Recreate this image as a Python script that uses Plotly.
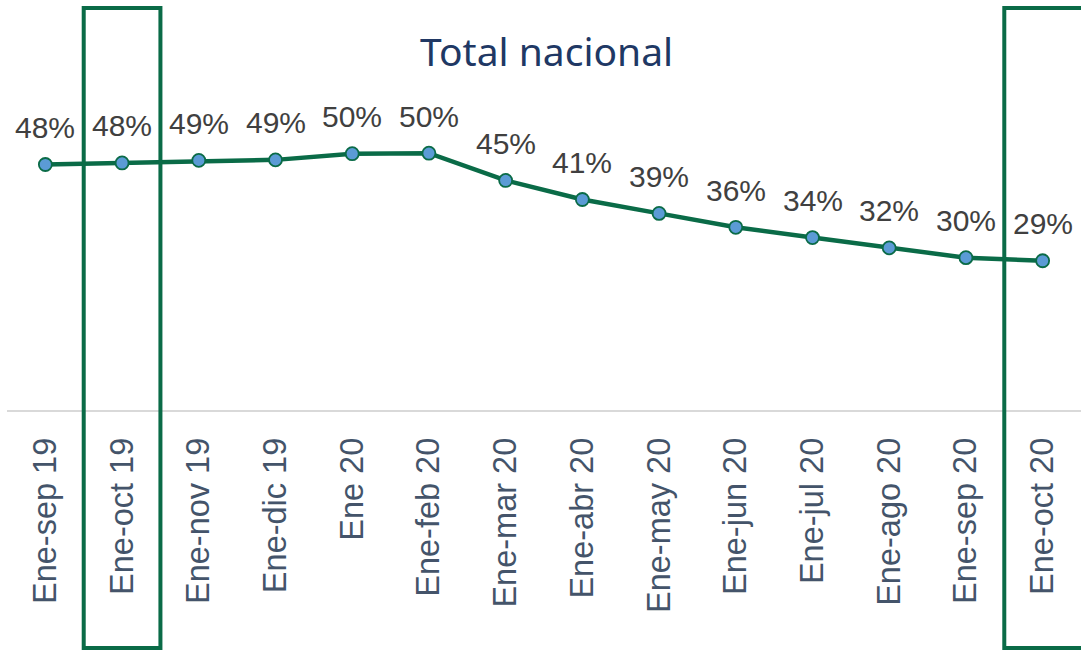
import plotly.graph_objects as go

categories = ["Ene-sep 19", "Ene-oct 19", "Ene-nov 19", "Ene-dic 19", "Ene 20", "Ene-feb 20",
              "Ene-mar 20", "Ene-abr 20", "Ene-may 20", "Ene-jun 20", "Ene-jul 20", "Ene-ago 20",
              "Ene-sep 20", "Ene-oct 20"]
values = [0.477, 0.480, 0.485, 0.486, 0.498, 0.499, 0.446, 0.409, 0.382, 0.355, 0.335, 0.315, 0.296, 0.290]
value_labels = ["48%", "48%", "49%", "49%", "50%", "50%", "45%", "41%", "39%", "36%", "34%", "32%", "30%", "29%"]
highlighted = ["Ene-oct 19", "Ene-oct 20"]

GREEN = "#0A6B47"
W, H = 1081, 651
ML, MR, MT, MB = 7, 0, 24, 241
plot_h = H - MT - MB
x_idx = list(range(len(categories)))
x_range = [-0.5, len(categories) - 0.5]


def to_paper_x(v):
    return (v - x_range[0]) / (x_range[1] - x_range[0])


fig = go.Figure()
fig.add_trace(go.Scatter(
    x=x_idx, y=values, mode="lines+markers",
    line=dict(color=GREEN, width=4.5),
    marker=dict(size=13, color="#5B9BD5", line=dict(color=GREEN, width=1.8)),
    hoverinfo="skip", showlegend=False,
))

for xi, v, lab in zip(x_idx, values, value_labels):
    fig.add_annotation(x=xi, y=v, xref="x", yref="y", text=lab, showarrow=False,
                       yanchor="middle", yshift=37,
                       font=dict(family="Liberation Sans, Arial", size=30, color="#404040"))

yb = (H - MB - 648) / plot_h
yt = (H - MB - 8) / plot_h
for cat in highlighted:
    i = categories.index(cat)
    x0 = to_paper_x(i - 0.5)
    if i < len(categories) - 1:
        x1 = to_paper_x(i + 0.5)
        path = f"M {x0} {yb} L {x0} {yt} L {x1} {yt} L {x1} {yb} Z"
    else:
        x1 = 1.02  # box runs past the right edge of the chart
        path = f"M {x1} {yb} L {x0} {yb} L {x0} {yt} L {x1} {yt}"
    fig.add_shape(type="path", xref="paper", yref="paper", path=path,
                  line=dict(color=GREEN, width=4), layer="above")

fig.add_annotation(x=(546 - ML) / (W - ML - MR), y=(H - MB - 50) / plot_h,
                   xref="paper", yref="paper", text="Total nacional", showarrow=False,
                   xanchor="center", yanchor="middle",
                   font=dict(family="Noto Sans", size=39, color="#203864"))

fig.update_layout(
    width=W, height=H,
    margin=dict(l=ML, r=MR, t=MT, b=MB),
    paper_bgcolor="white", plot_bgcolor="white",
    xaxis=dict(range=x_range, tickmode="array", tickvals=x_idx, ticktext=categories,
               tickangle=-90, showgrid=False, zeroline=False, showline=True,
               linecolor="#D9D9D9", linewidth=1.5, ticks="", ticklabelstandoff=13,
               tickfont=dict(family="Liberation Sans, Arial", size=32.5, color="#44546A")),
    yaxis=dict(range=[0, 0.75], visible=False, showgrid=False, zeroline=False),
)

fig.write_html("out.html", config={"displayModeBar": False})

with open("out.html", "r", encoding="utf-8") as f:
    html = f.read()
html = html.replace("<head>", "<head><style>html,body{margin:0;padding:0;overflow:hidden;}</style>", 1)
with open("out.html", "w", encoding="utf-8") as f:
    f.write(html)
